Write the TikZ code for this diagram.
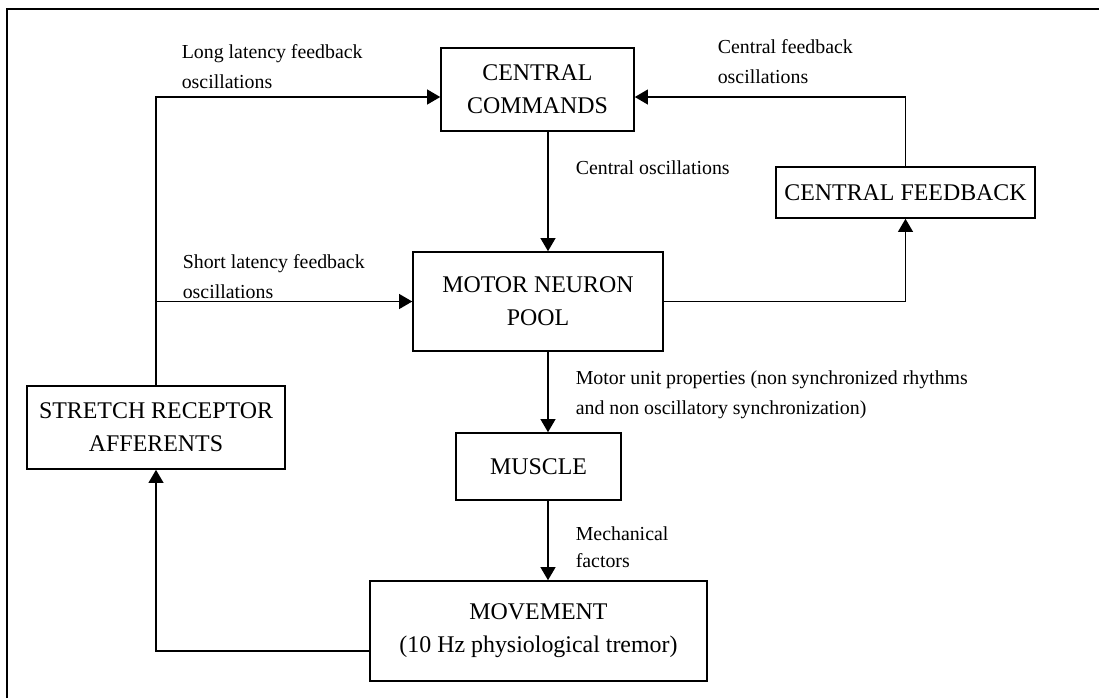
\documentclass[tikz,border=0pt]{standalone}
\usepackage{fontspec}
\setmainfont{Liberation Serif}
\usetikzlibrary{arrows.meta}

\begin{document}
\begin{tikzpicture}[x=0.02cm, y=-0.02cm, line width=0.9pt,
  >={Triangle[length=7.5pt,width=8.5pt]},
  block/.style={draw, align=center, inner sep=0pt, font=\fontsize{13.6}{18.7}\selectfont},
  note/.style={anchor=west, align=left, inner sep=0pt, font=\fontsize{11.3}{17}\selectfont}]
\useasboundingbox (0,0) rectangle (1099,698);

% Frame
\draw[line width=1.5pt] (7,698) -- (7,9) -- (1099,9);

% Blocks
\node[block, minimum width=3.86cm, minimum height=1.66cm] (cc) at (537.5,89.5) {CENTRAL\\COMMANDS};
\node[block, minimum width=5.18cm, minimum height=1.02cm] (cf) at (905.5,192.5) {CENTRAL FEEDBACK};
\node[block, minimum width=5.0cm, minimum height=1.98cm] (mnp) at (538,301.5) {MOTOR NEURON\\POOL};
\node[block, minimum width=3.3cm, minimum height=1.34cm] (mus) at (538.5,466.5) {MUSCLE};
\node[block, minimum width=6.74cm, minimum height=2.0cm] (mov) at (538.5,631) {MOVEMENT\\(10 Hz physiological tremor)};
\node[block, minimum width=5.16cm, minimum height=1.66cm] (sra) at (156,427.5) {STRETCH RECEPTOR\\AFFERENTS};

% Helper coordinates
\coordinate (spine) at (548,0);
\coordinate (top) at (0,97);
\coordinate (back) at (0,651);

% Main chain
\draw[->] (cc.south -| spine) -- (mnp.north -| spine);
\draw[->] (mnp.south -| spine) -- (mus.north -| spine);
\draw[->] (mus.south -| spine) -- (mov.north -| spine);

% Feedback loops
\draw[->] (mnp.east) -| (cf.south);
\draw[->] (cf.north) |- (cc.east |- top);
\draw[->] (mov.west |- back) -| (sra.south);
\draw[->] (sra.north) |- (cc.west |- top);
\draw[->] (sra.north |- mnp.west) -- (mnp.west);

% Labels
\node[note] (llf) at (181,67) {Long latency feedback\\oscillations};
\node[note] (cfo) at (717,62) {Central feedback\\oscillations};
\node[note] (co) at (575,168) {Central oscillations};
\node[note] (slf) at (182,277) {Short latency feedback\\oscillations};
\node[note] (mup) at (575,395) {Motor unit properties (non synchronized rhythms\\and non oscillatory synchronization)};
\node[note, font=\fontsize{11.3}{15.5}\selectfont] (mf) at (575,547) {Mechanical\\factors};
\end{tikzpicture}
\end{document}
